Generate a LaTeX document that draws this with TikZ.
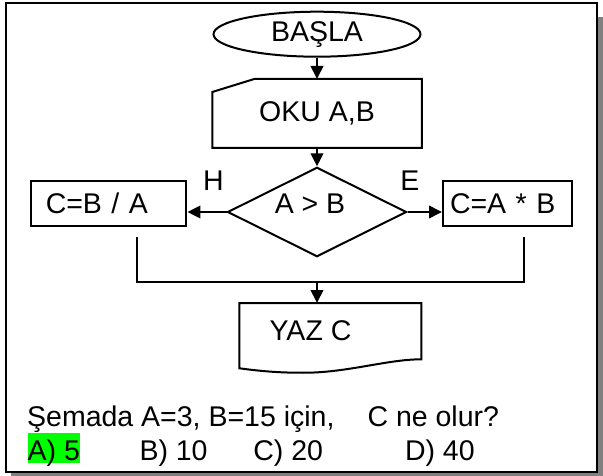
\documentclass[tikz,border=0pt]{standalone}
\usepackage{fontspec}
\setmainfont{Liberation Sans}
\usetikzlibrary{shapes.geometric,arrows.meta}
\definecolor{hlgreen}{RGB}{0,255,0}
\begin{document}
\begin{tikzpicture}[x=1pt,y=1pt,line width=2pt,
  font=\fontsize{28.5}{34}\selectfont,
  every node/.style={inner sep=0pt},
  startstop/.style={draw,ellipse,minimum width=207pt,minimum height=45pt},
  decide/.style={draw,diamond,minimum width=179pt,minimum height=89.4pt},
  proc/.style={draw,rectangle,minimum height=45.3pt,align=left},
  flow/.style={-{Triangle[length=13pt,width=12.5pt]}}]
 \useasboundingbox (0,0) rectangle (603,-476);
 \fill[black!50] (11,-17) rectangle (603,-476);
 \filldraw[fill=white,line width=2.4pt] (6,-3) rectangle (597,-472);
 \node[startstop] (start) at (317,-34.2) {BAŞLA};
 \node[minimum width=207.5pt,minimum height=67pt] (oku) at (317,-113.5) {OKU A,B};
 \draw ([yshift=-13pt]oku.north west) -- ([xshift=42pt]oku.north west) -- (oku.north east) -- (oku.south east) -- (oku.south west) -- cycle;
 \node[decide] (cmp) at (317,-212) {};
 \node (cmpt) at (310,-204) {A > B};
 \node[proc,text width=125.7pt,inner xsep=15pt] (divb) at (108.6,-203.4) {C=B / A};
 \node[proc,text width=115pt,inner xsep=7pt] (mulb) at (507.5,-203.4) {C=A * B};
 \node (no) at (213.5,-181) {H};
 \node (yes) at (410,-181) {E};
 \draw[flow] (start) -- (oku);
 \draw[flow] (oku) -- (cmp);
 \draw[flow] (cmp.west) -- (cmp.west -| divb.east);
 \draw[flow] (cmp.east) -- (cmp.east -| mulb.west);
 \coordinate (ltail) at (137.3,-237.3);
 \coordinate (rtail) at (523.8,-237.3);
 \coordinate (merge) at (317,-281.7);
 \draw (ltail) |- (merge) -| (rtail);
 \node[minimum width=180pt,minimum height=63.3pt] (yaz) at (330.4,-335.65) {};
 \node (yazt) at (310.5,-331) {YAZ C};
 \draw (yaz.north west) -- (yaz.north east) -- ([yshift=9pt]yaz.south east)
   .. controls +(-35pt,0pt) and +(45pt,-1pt) .. ([xshift=60pt,yshift=-4.4pt]yaz.south west)
   .. controls +(-25pt,0pt) and +(15pt,-2pt) .. (yaz.south west) -- cycle;
 \draw[flow] (merge) -- (merge |- yaz.north);
 \node[anchor=base west] (ques) at (26.2,-426.8) {Şemada A=3, B=15 için,\hspace{33pt}C ne olur?};
 \node[anchor=base west,fill=hlgreen,text height=27.3pt,text depth=2.7pt] (opta) at (26.7,-460.5) {A) 5};
 \node[anchor=base west] (optb) at (138.5,-460.5) {B) 10};
 \node[anchor=base west] (optc) at (252.3,-460.5) {C) 20};
 \node[anchor=base west] (optd) at (404,-460.5) {D) 40};
\end{tikzpicture}
\end{document}
